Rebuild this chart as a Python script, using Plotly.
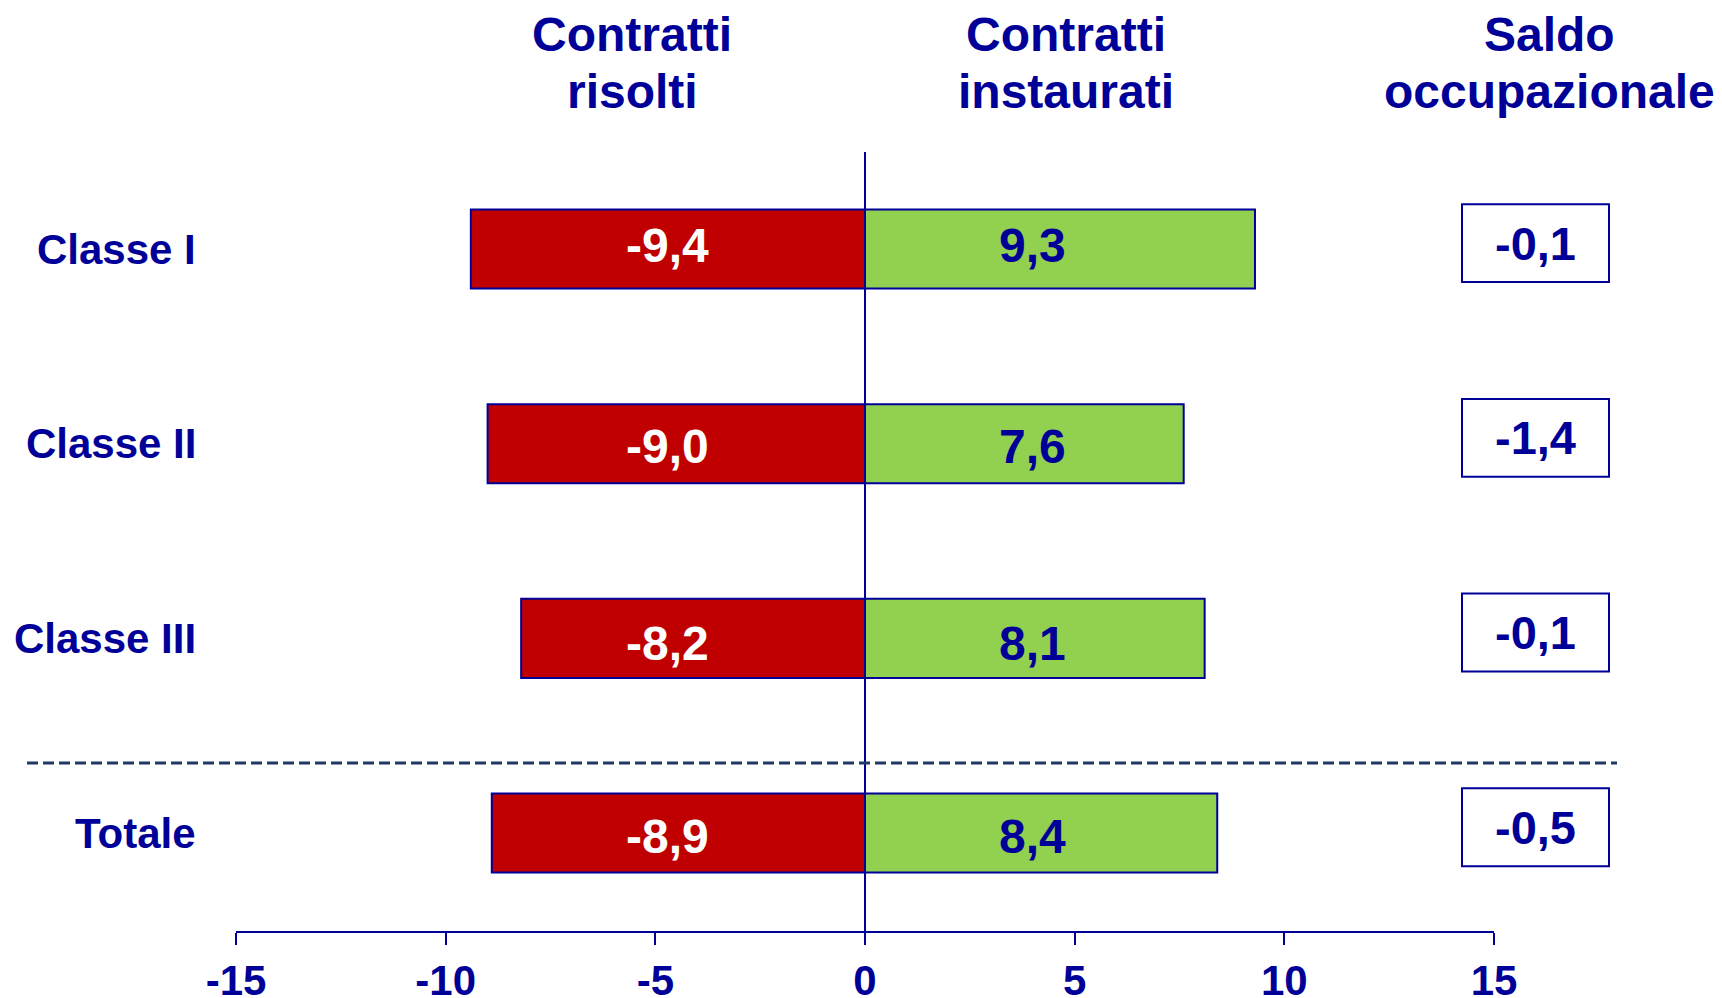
import plotly.graph_objects as go

# ---- data ----
categorie = ["Classe I", "Classe II", "Classe III", "Totale"]
risolti = [-9.4, -9.0, -8.2, -8.9]
instaurati = [9.3, 7.6, 8.1, 8.4]
saldo = [-0.1, -1.4, -0.1, -0.5]
x_ticks = [-15, -10, -5, 0, 5, 10, 15]
x_ticklabels = ["-15", "-10", "-5", "0", "5", "10", "15"]
titoli = [("Contratti", "risolti"), ("Contratti", "instaurati"), ("Saldo", "occupazionale")]

# ---- style ----
NAVY = "#000099"
RED = "#C00000"
GREEN = "#92D050"
FONT = "Liberation Sans, Arial, sans-serif"
W, H = 1722, 998
OFF = 8                      # page body margin in the browser
FW, FH = W - OFF, H - OFF    # visible figure size
label_yshift = [4, -3, -5, -3]   # small vertical nudges of in-bar labels (px)


def xp(px):
    return (px - OFF) / FW


def yp(py):
    return 1 - (py - OFF) / FH


def fmt(v):
    return f"{v:.1f}".replace(".", ",")


fig = go.Figure()
bar_w = 0.406
fig.add_trace(go.Bar(y=categorie, x=risolti, orientation="h", width=bar_w,
                     marker=dict(color=RED, line=dict(color=NAVY, width=2)),
                     hoverinfo="skip", showlegend=False))
fig.add_trace(go.Bar(y=categorie, x=instaurati, orientation="h", width=bar_w,
                     marker=dict(color=GREEN, line=dict(color=NAVY, width=2)),
                     hoverinfo="skip", showlegend=False))

annotations = []
shapes = []

# value labels in bars (fixed horizontal position as in original)
for c, r, i_, ys in zip(categorie, risolti, instaurati, label_yshift):
    annotations.append(dict(x=-4.7, y=c, xref="x", yref="y", yshift=ys, text=fmt(r), showarrow=False,
                            font=dict(family=FONT, size=48, color="white", weight="bold"),
                            xanchor="center", yanchor="middle"))
    annotations.append(dict(x=4.0, y=c, xref="x", yref="y", yshift=ys, text=fmt(i_), showarrow=False,
                            font=dict(family=FONT, size=48, color=NAVY, weight="bold"),
                            xanchor="center", yanchor="middle"))
    # category labels
    annotations.append(dict(x=xp(198), y=c, xref="paper", yref="y", text=c, showarrow=False,
                            font=dict(family=FONT, size=42, color=NAVY, weight="bold"),
                            xanchor="right", yanchor="middle"))

# saldo boxes
for k, (c, s) in enumerate(zip(categorie, saldo)):
    yc = k - 0.03
    shapes.append(dict(type="rect", xref="paper", yref="y",
                       x0=xp(1462), x1=xp(1609), y0=yc - 0.2, y1=yc + 0.2,
                       line=dict(color=NAVY, width=2), fillcolor="white"))
    annotations.append(dict(x=xp(1535), y=yc, xref="paper", yref="y", text=fmt(s), showarrow=False,
                            font=dict(family=FONT, size=47, color=NAVY, weight="bold"),
                            xanchor="center", yanchor="middle"))

# column titles
for xc, (l1, l2) in zip([632, 1066, 1549], titoli):
    annotations.append(dict(x=xp(xc), y=yp(35), xref="paper", yref="paper", text=l1, showarrow=False,
                            font=dict(family=FONT, size=48, color=NAVY, weight="bold"),
                            xanchor="center", yanchor="middle"))
    annotations.append(dict(x=xp(xc), y=yp(92), xref="paper", yref="paper", text=l2, showarrow=False,
                            font=dict(family=FONT, size=48, color=NAVY, weight="bold"),
                            xanchor="center", yanchor="middle"))

# zero line
shapes.append(dict(type="line", xref="x", yref="y", x0=0, x1=0, y0=-0.498, y1=3.503,
                   line=dict(color=NAVY, width=2), layer="above"))
# dashed separator
shapes.append(dict(type="line", xref="paper", yref="y", x0=xp(27), x1=xp(1617), y0=2.64, y1=2.64,
                   line=dict(color="#1F3864", width=3, dash="11px,5px")))

fig.update_layout(
    width=FW, height=FH,
    margin=dict(l=0, r=0, t=0, b=0, pad=0, autoexpand=False),
    paper_bgcolor="white", plot_bgcolor="white",
    barmode="overlay",
    xaxis=dict(domain=[xp(236), xp(1494)], range=[-15, 15],
               tickvals=x_ticks, ticktext=x_ticklabels, automargin=False,
               showline=True, linecolor=NAVY, linewidth=2,
               ticks="outside", ticklen=12, tickwidth=2, tickcolor=NAVY,
               tickfont=dict(family=FONT, size=42, color=NAVY, weight="bold"),
               showgrid=False, zeroline=False, fixedrange=True),
    yaxis=dict(domain=[yp(931), 1], type="category", categoryarray=categorie,
               range=[3.503, -1.279 + (OFF / 194.7)], showticklabels=False, showgrid=False,
               automargin=False, zeroline=False, showline=False, ticks="", fixedrange=True),
    annotations=annotations,
    shapes=shapes,
    showlegend=False,
)

fig.write_html("out.html")
